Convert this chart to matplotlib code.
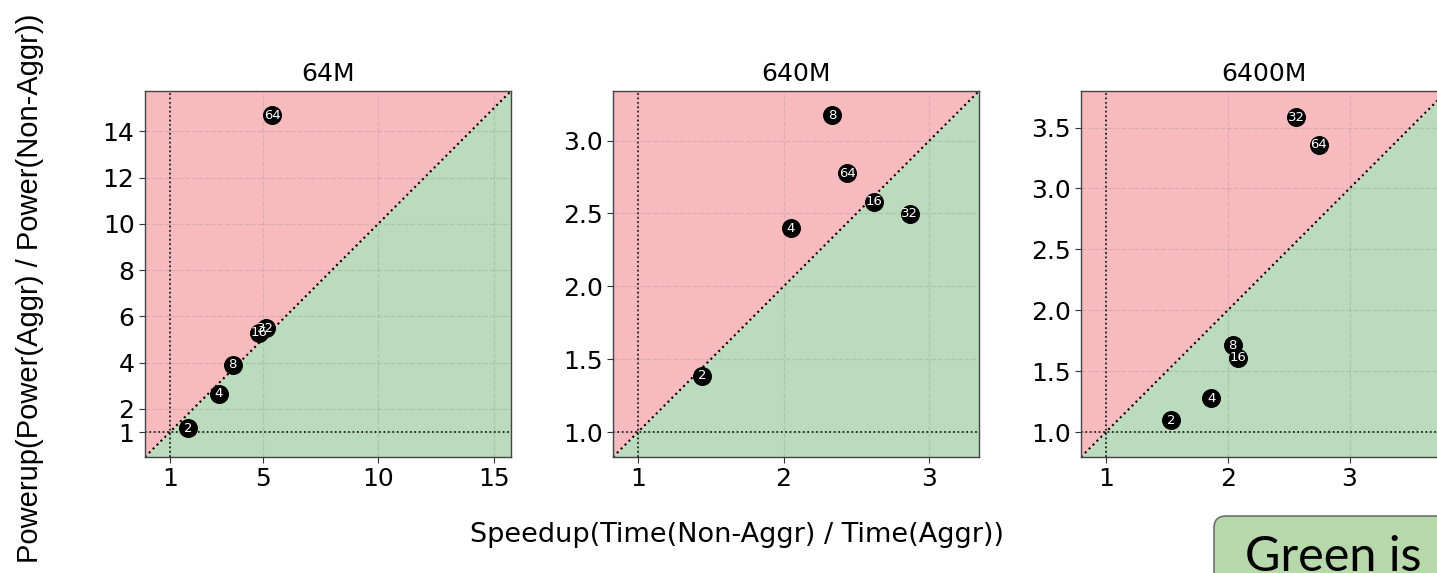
import matplotlib.pyplot as plt
from matplotlib.patches import FancyBboxPatch
from matplotlib.transforms import IdentityTransform

plt.rcParams["font.family"] = ["DejaVu Sans"]

# thread counts shown inside each marker
threads = [2, 4, 8, 16, 32, 64]

titles = ["64M", "640M", "6400M"]

speedup_64m = [1.77, 3.10, 3.71, 4.83, 5.13, 5.43]
powerup_64m = [1.17, 2.65, 3.91, 5.30, 5.48, 14.70]

speedup_640m = [1.44, 2.05, 2.335, 2.617, 2.865, 2.436]
powerup_640m = [1.388, 2.40, 3.175, 2.581, 2.497, 2.777]

speedup_6400m = [1.536, 1.863, 2.039, 2.088, 2.562, 2.747]
powerup_6400m = [1.098, 1.276, 1.713, 1.609, 3.584, 3.358]

xticks = [[1, 5, 10, 15], [1, 2, 3], [1, 2, 3]]
yticks = [[1, 2, 4, 6, 8, 10, 12, 14],
          [1.0, 1.5, 2.0, 2.5, 3.0],
          [1.0, 1.5, 2.0, 2.5, 3.0, 3.5]]
ytick_fmt = ["{:g}", "{:.1f}", "{:.1f}"]

limits = [(-0.08, 15.74), (0.83, 3.34), (0.795, 3.80)]

RED = "#f7bbbe"
GREEN = "#badbbc"

W, H = 1437, 573


def draw_panel(ax, title, xs, ys, lims, xt, yt, yfmt):
    lo, hi = lims
    ax.fill_between([lo, hi], [lo, hi], hi, color=RED, lw=0, zorder=0)
    ax.fill_between([lo, hi], lo, [lo, hi], color=GREEN, lw=0, zorder=0)
    ax.plot([lo, hi], [lo, hi], color="black", ls=":", lw=1.5, zorder=2)
    ax.axvline(1, color="black", ls=":", lw=1.2, zorder=2)
    ax.axhline(1, color="black", ls=":", lw=1.2, zorder=2)

    ax.scatter(xs, ys, s=160, color="black", zorder=3)
    for x, y, n in zip(xs, ys, threads):
        ax.text(x, y, str(n), color="white", fontsize=9.5,
                ha="center", va="center", zorder=4)

    ax.set_xlim(lo, hi)
    ax.set_ylim(lo, hi)
    ax.set_xticks(xt)
    ax.set_yticks(yt)
    ax.set_yticklabels([yfmt.format(v) for v in yt])
    ax.tick_params(labelsize=18, length=4, color="#333333")
    ax.grid(True, ls="--", color="gray", alpha=0.25, lw=0.9, zorder=1)
    ax.set_axisbelow(False)
    for sp in ax.spines.values():
        sp.set_color("#444444")
        sp.set_linewidth(1.0)
    ax.set_title(title, fontsize=18, pad=7)


fig = plt.figure(figsize=(W / 100, H / 100), dpi=100)

lefts = [145, 613, 1081]
data = [(speedup_64m, powerup_64m),
        (speedup_640m, powerup_640m),
        (speedup_6400m, powerup_6400m)]

for i, left in enumerate(lefts):
    ax = fig.add_axes([left / W, 1 - 457 / H, 366 / W, 366 / H])
    xs, ys = data[i]
    draw_panel(ax, titles[i], xs, ys, limits[i], xticks[i], yticks[i], ytick_fmt[i])

fig.text(737 / W, 1 - 535 / H, "Speedup(Time(Non-Aggr) / Time(Aggr))",
         fontsize=19.5, ha="center", va="center")
fig.text(30 / W, 1 - 288 / H, "Powerup(Power(Aggr) / Power(Non-Aggr))",
         fontsize=21, family=["Liberation Sans", "DejaVu Sans"], rotation=90,
         ha="center", va="center")

# rounded note box in the lower right, cut by the figure edge
box = FancyBboxPatch((1214, -40), 300, H - 516 + 40,
                     boxstyle="round,pad=0,rounding_size=12",
                     fc="#b6d8ab", ec="#707070", lw=1.2,
                     transform=IdentityTransform())
fig.add_artist(box)
fig.text(1245 / W, 1 - 571 / H, "Green is better", fontsize=35,
         family=["Lato", "DejaVu Sans"], ha="left", va="baseline")

fig.savefig("out.png", dpi=100)
